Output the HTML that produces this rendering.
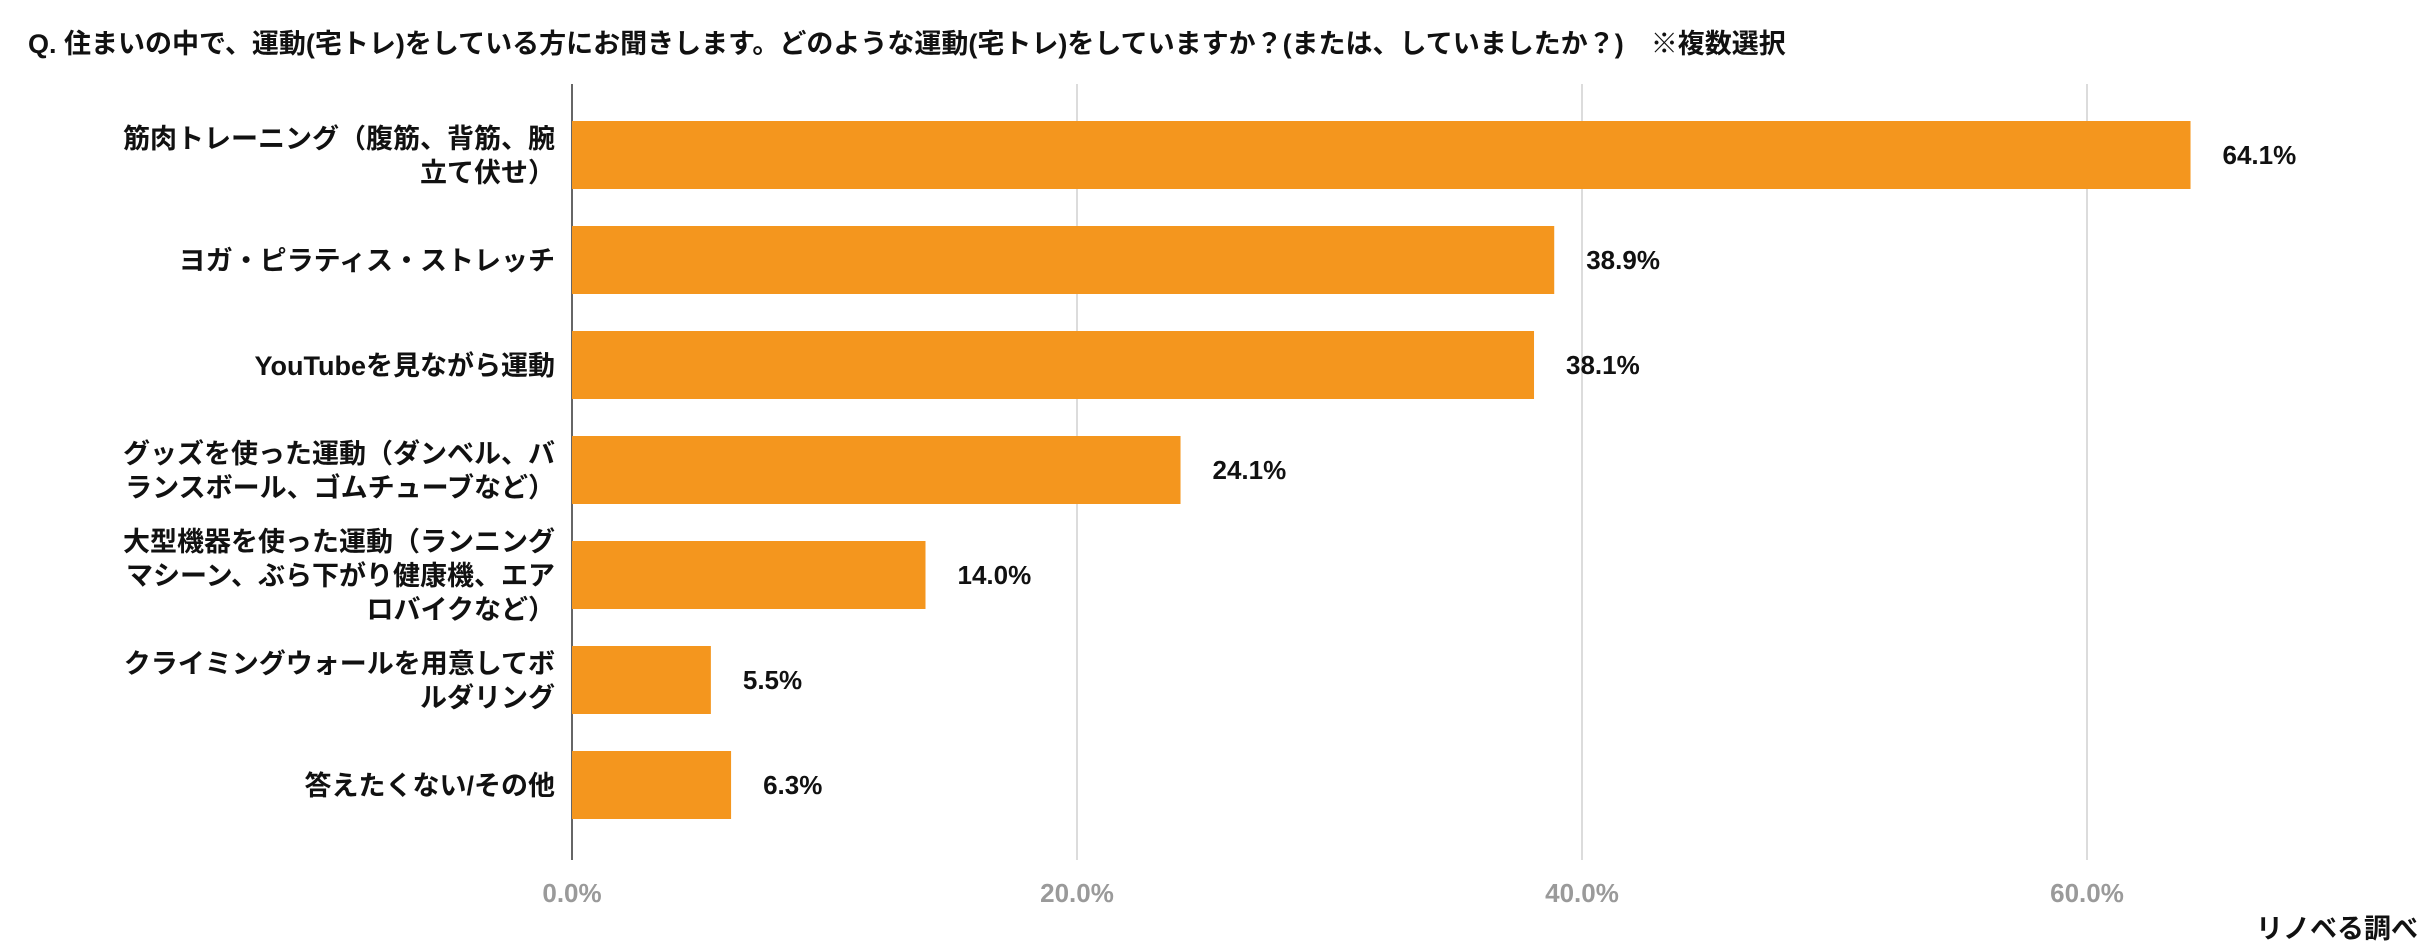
<!DOCTYPE html>
<html><head><meta charset="utf-8"><style>
html,body{margin:0;padding:0;background:#fff;}
svg{display:block;font-family:"Liberation Sans","Noto Sans CJK JP",sans-serif;font-weight:bold;}
</style></head><body>
<svg id="chart" width="2425" height="949" viewBox="0 0 2425 949" xmlns="http://www.w3.org/2000/svg">
<text x="28" y="53" font-size="27" fill="#111">Q.  住まいの中で、運動(宅トレ)をしている方にお聞きします。どのような運動(宅トレ)をしていますか？(または、していましたか？)　※複数選択</text>
<g id="grid"></g><g id="bars"></g><g id="labels"></g>
<text x="2418" y="938" font-size="27" text-anchor="end" fill="#111">リノベる調べ</text>
</svg>
<script>
const categories=[["筋肉トレーニング（腹筋、背筋、腕","立て伏せ）"],["ヨガ・ピラティス・ストレッチ"],["YouTubeを見ながら運動"],["グッズを使った運動（ダンベル、バ","ランスボール、ゴムチューブなど）"],["大型機器を使った運動（ランニング","マシーン、ぶら下がり健康機、エア","ロバイクなど）"],["クライミングウォールを用意してボ","ルダリング"],["答えたくない/その他"]];
const values=[64.1,38.9,38.1,24.1,14.0,5.5,6.3];
const ticks=[0,20,40,60];
const NS="http://www.w3.org/2000/svg";
const x0=572,pxPer=25.25,top0=121,pitch=105,barH=68;
const xs=v=>x0+v*pxPer;
function mk(t,a,p){const e=document.createElementNS(NS,t);for(const k in a)e.setAttribute(k,a[k]);p.appendChild(e);return e;}
const g=document.getElementById('grid'),b=document.getElementById('bars'),l=document.getElementById('labels');
ticks.forEach(t=>{
 if(t>0){const ln=mk('line',{x1:xs(t),x2:xs(t),y1:84,y2:860,stroke:'#d0d0d0','stroke-width':1.5},g);
 
 }
 const tx=mk('text',{x:xs(t),y:902,'font-size':26,fill:'#9a9a9a','text-anchor':'middle'},g);
 tx.textContent=t.toFixed(1)+'%';
 
 
});
values.forEach((v,i)=>{
 const y=top0+i*pitch;
 const r=mk('rect',{x:x0,y:y,width:xs(v)-x0,height:barH,fill:'#F4961E'},b);
 
 
 const vt=mk('text',{x:xs(v)+32,y:y+barH/2+9,'font-size':26,fill:'#111'},l);
 vt.textContent=v.toFixed(1)+'%';
 
 
 const lines=categories[i],lh=34,cy=y+barH/2;
 lines.forEach((s,j)=>{
  const ct=mk('text',{x:555,y:cy+(j-(lines.length-1)/2)*lh+10,'font-size':27,fill:'#111','text-anchor':'end'},l);
  ct.textContent=s;
  
  
 });
});
const ax=mk('line',{x1:x0,x2:x0,y1:84,y2:860,stroke:'#333','stroke-width':1.5},g);


</script>
</body></html>
